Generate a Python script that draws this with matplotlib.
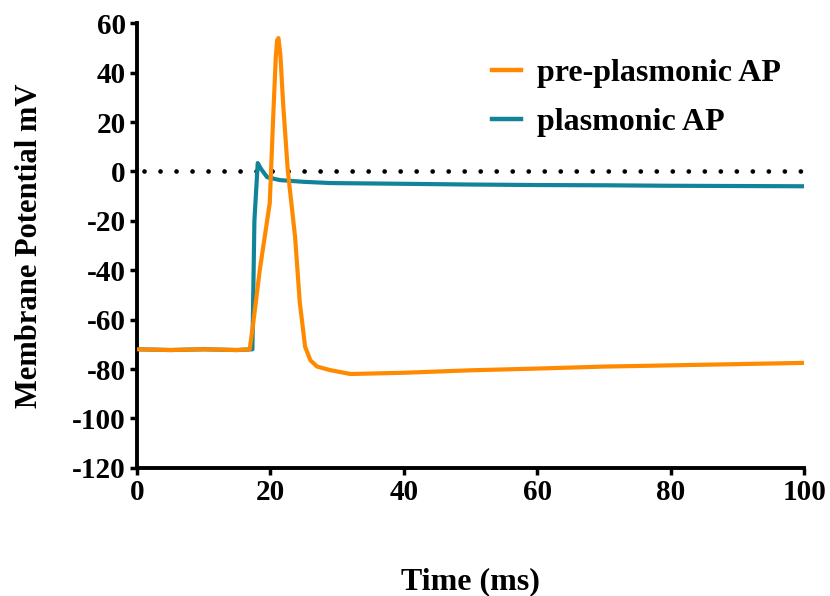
import numpy as np
import matplotlib
matplotlib.use('Agg')
from matplotlib import pyplot as plt

# traces (ms, mV)
t_pre = [0, 5, 10, 15, 16.9, 17.4, 18.4, 19.9, 20.4, 20.8, 21.0, 21.2, 21.5, 21.9, 22.6,
         23.7, 24.4, 25.2, 26, 27, 28.9, 32, 40, 50, 60, 70, 80, 90, 100]
v_pre = [-72, -72.3, -72, -72.3, -72, -62, -40, -12.8, 21, 46, 53, 54, 47, 27.6, 0.5,
         -26.6, -53, -71, -76.5, -79, -80.4, -82, -81.5, -80.5, -79.8, -79, -78.5, -78, -77.5]

t_pl = [0, 5, 10, 15, 17.3, 17.6, 18.1, 18.6, 19.5, 21.4, 25, 29, 40, 50, 60, 70, 80, 90, 100]
v_pl = [-72, -72.3, -72, -72.3, -72, -20, 3.4, 1, -2.3, -3.5, -4.2, -4.7, -5, -5.3, -5.5, -5.6, -5.8, -5.9, -6]

labels = ['pre-plasmonic AP', 'plasmonic AP']
c_pre = '#ff8a00'
c_pl = '#12849a'

plt.rcParams['font.family'] = ['Liberation Serif', 'DejaVu Serif']
plt.rcParams['font.weight'] = 'bold'
plt.rcParams['axes.unicode_minus'] = False

fig = plt.figure(figsize=(8.3, 5.96), dpi=100)
ax = fig.add_axes([0.165, 0.215, 0.804, 0.746])

# zero reference line (round dots)
ax.plot([1.0, 100], [0, 0], color='black', lw=3.4, linestyle=(0, (0.01, 3.38)),
        dash_capstyle='round', zorder=1)

ax.plot(t_pl, v_pl, color=c_pl, lw=3.0, label=labels[1], zorder=2)
ax.plot(t_pre, v_pre, color=c_pre, lw=3.0, label=labels[0], zorder=3)

ax.set_xlim(0, 100)
ax.set_ylim(-120, 60)
ax.set_xticks(np.arange(0, 101, 20))
ax.set_yticks(np.arange(-120, 61, 20))

for s in ['top', 'right']:
    ax.spines[s].set_visible(False)
for s in ['left', 'bottom']:
    ax.spines[s].set_linewidth(2.8)
ax.tick_params(width=2.5, length=5, labelsize=21, pad=3)
for lab in ax.get_xticklabels() + ax.get_yticklabels():
    lab.set_fontweight('bold')

ax.set_xlabel('Time (ms)', fontsize=23, fontweight='bold', labelpad=44)
ax.set_ylabel('Membrane Potential mV', fontsize=22, fontweight='bold', labelpad=20)

h, l = ax.get_legend_handles_labels()
leg = ax.legend(h[::-1], l[::-1], loc='upper left', frameon=False, fontsize=23,
                handlelength=0.9, handletextpad=0.5, labelspacing=0.6,
                borderpad=0, borderaxespad=0, bbox_to_anchor=(0.532, 0.92))
for line in leg.get_lines():
    line.set_linewidth(3.2)
for txt in leg.get_texts():
    txt.set_fontweight('bold')

fig.savefig('out.png', dpi=100)
